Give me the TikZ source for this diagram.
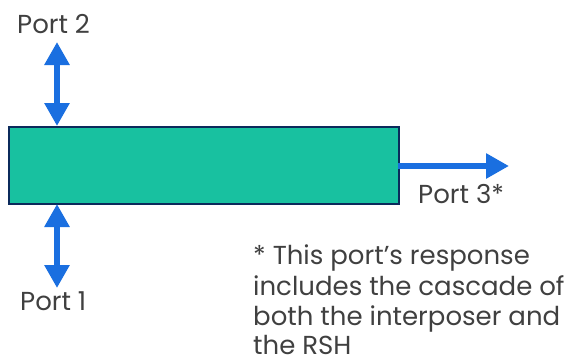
\documentclass[tikz,border=0pt]{standalone}
\usepackage{fontspec}
\setmainfont{Poppins}
\usetikzlibrary{arrows.meta}
\definecolor{teal1}{HTML}{18C1A0}
\definecolor{navy1}{HTML}{0B2A5B}
\definecolor{blue1}{HTML}{1A6FE0}
\definecolor{txt}{HTML}{404040}
\begin{document}
\begin{tikzpicture}[x=1pt,y=-1pt,
  lbl/.style={anchor=base west,inner sep=0pt,text=txt,font=\fontsize{26}{31}\selectfont},
  portarrow/.style={draw=blue1,line width=6pt,-{Triangle[width=24pt,length=23pt]}},
  dblarrow/.style={draw=blue1,line width=6pt,{Triangle[width=24pt,length=23pt]}-{Triangle[width=24pt,length=23pt]}}]
\useasboundingbox (0,0) rectangle (571,360);
\node[draw=navy1,fill=teal1,line width=2pt,minimum width=390pt,minimum height=77pt,inner sep=0pt,anchor=north west] (box) at (8,126) {};
\coordinate (p2tip) at (57,42);
\coordinate (p2foot) at (57,126);
\coordinate (p1foot) at (57,204);
\coordinate (p1tip) at (57,288);
\coordinate (p3start) at (398,166);
\coordinate (p3tip) at (509,166);
\draw[dblarrow] (p2tip) -- (p2foot);
\draw[dblarrow] (p1foot) -- (p1tip);
\draw[portarrow] (p3start) -- (p3tip);
\node[lbl] (port2) at (17,33) {Port 2};
\node[lbl] (port1) at (20,310) {Port 1};
\node[lbl] (port3) at (418,203) {Port 3*};
\node[lbl] (note1) at (253,264) {* This port’s response};
\node[lbl] (note2) at (253,295) {includes the cascade of};
\node[lbl] (note3) at (253,325) {both the interposer and};
\node[lbl,text depth=0pt] (note4) at (253,354) {the RSH};
\end{tikzpicture}
\end{document}
